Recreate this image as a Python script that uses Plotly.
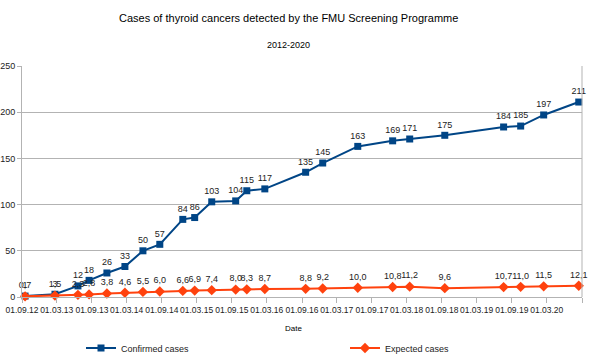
import plotly.graph_objects as go

dates = ["2012-09-17", "2013-02-20", "2013-06-20", "2013-08-17", "2013-11-18", "2014-02-20",
         "2014-05-25", "2014-08-21", "2014-12-19", "2015-02-19", "2015-05-19", "2015-09-21",
         "2015-11-18", "2016-02-20", "2016-09-20", "2016-12-18", "2017-06-19", "2017-12-18",
         "2018-03-17", "2018-09-16", "2019-07-20", "2019-10-17", "2020-02-14", "2020-08-15"]
confirmed = [1, 3, 12, 18, 26, 33, 50, 57, 84, 86, 103, 104, 115, 117, 135, 145, 163, 169,
             171, 175, 184, 185, 197, 211]
expected = [0.7, 1.5, 2.3, 2.8, 3.8, 4.6, 5.5, 6.0, 6.6, 6.9, 7.4, 8.0, 8.3, 8.7, 8.8, 9.2,
            10.0, 10.8, 11.2, 9.6, 10.7, 11.0, 11.5, 12.1]
tick_dates = ["2012-09-01", "2013-03-01", "2013-09-01", "2014-03-01", "2014-09-01", "2015-03-01",
              "2015-09-01", "2016-03-01", "2016-09-01", "2017-03-01", "2017-09-01", "2018-03-01",
              "2018-09-01", "2019-03-01", "2019-09-01", "2020-03-01", "2020-09-01"]
tick_labels = ["01.09.12", "01.03.13", "01.09.13", "01.03.14", "01.09.14", "01.03.15",
               "01.09.15", "01.03.16", "01.09.16", "01.03.17", "01.09.17", "01.03.18",
               "01.09.18", "01.03.19", "01.09.19", "01.03.20", ""]

FONT = "Liberation Sans, Arial, sans-serif"
BLUE = "#004586"
ORANGE = "#ff420e"
W, H = 590, 364
PL, PR, PT, PB = 22, 582, 66, 297          # plot area in page pixels
L, T, R, B = PL, PT, W - PR, H - PB
PW, PH = PR - PL, PB - PT


def fx(px):
    return (px - PL) / PW


def fy(py):
    return (PB - py) / PH


fig = go.Figure()
fig.add_trace(go.Scatter(
    x=dates, y=confirmed, mode="lines+markers+text", name="Confirmed cases",
    line=dict(color=BLUE, width=2), marker=dict(symbol="square", size=7, color=BLUE),
    text=[str(v) for v in confirmed], textposition="top center",
    textfont=dict(size=9, color="#222", family=FONT), cliponaxis=False, legend="legend"))
fig.add_trace(go.Scatter(
    x=dates, y=expected, mode="lines+markers+text", name="Expected cases",
    line=dict(color=ORANGE, width=2), marker=dict(symbol="diamond", size=8, color=ORANGE),
    text=[f"{v:.1f}".replace(".", ",") for v in expected], textposition="top center",
    textfont=dict(size=9, color="#222", family=FONT), cliponaxis=False, legend="legend2"))

leg_common = dict(orientation="h", xanchor="left", yanchor="middle", y=fy(348),
                  font=dict(size=9, color="#222"), itemwidth=30, bgcolor="rgba(0,0,0,0)",
                  borderwidth=0)
fig.update_layout(
    width=W, height=H, paper_bgcolor="white", plot_bgcolor="white",
    margin=dict(l=L, r=R, t=T, b=B, autoexpand=False),
    font=dict(family=FONT, size=9, color="#222"),
    showlegend=True,
    legend=dict(x=fx(81), **leg_common),
    legend2=dict(x=fx(345), **leg_common),
    modebar=dict(bgcolor="rgba(0,0,0,0)", color="rgba(0,0,0,0)", activecolor="rgba(0,0,0,0)"),
    annotations=[
        dict(text="Cases of thyroid cancers detected by the FMU Screening Programme",
             xref="paper", yref="paper", x=fx(288), y=fy(18),
             showarrow=False, font=dict(size=11, color="#000"), xanchor="center", yanchor="middle"),
        dict(text="2012-2020", xref="paper", yref="paper", x=fx(288), y=fy(45),
             showarrow=False, font=dict(size=9, color="#000"),
             xanchor="center", yanchor="middle"),
        dict(text="Date", xref="paper", yref="paper", x=fx(293), y=fy(328),
             showarrow=False, font=dict(size=8, color="#000"),
             xanchor="center", yanchor="middle"),
    ],
)
fig.update_xaxes(
    type="date", range=["2012-09-01", "2020-09-01"], tickvals=tick_dates, ticktext=tick_labels,
    tickangle=0, ticks="outside", ticklen=5, tickcolor="#b3b3b3", showgrid=False,
    showline=True, linecolor="#b3b3b3", linewidth=1, mirror=False, automargin=False,
    tickfont=dict(size=8.5, color="#222"), zeroline=False)
fig.update_yaxes(
    range=[0, 250], dtick=50, ticks="outside", ticklen=4, tickcolor="#b3b3b3",
    showgrid=True, gridcolor="#b3b3b3", gridwidth=1, showline=True, linecolor="#b3b3b3",
    linewidth=1, tickfont=dict(size=9, color="#222"), zeroline=False, automargin=False)
fig.add_shape(type="line", xref="paper", yref="paper", x0=1, x1=1, y0=0, y1=1,
              line=dict(color="#b3b3b3", width=1))

fig.write_html("out.html", config={"displayModeBar": False},
               post_script="document.body.style.margin='0';")
